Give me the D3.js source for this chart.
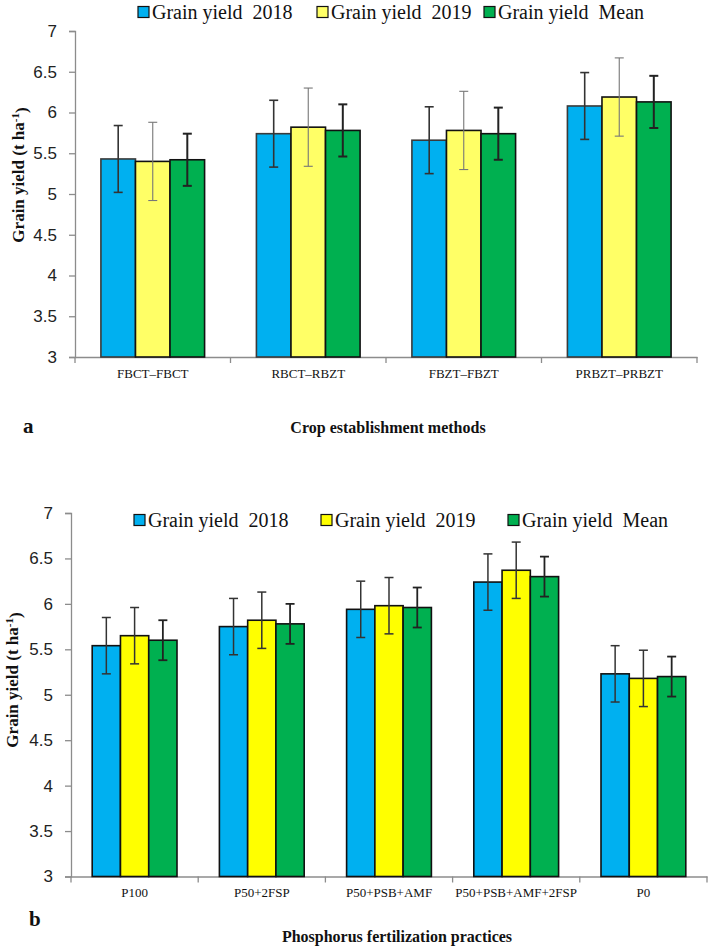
<!DOCTYPE html>
<html>
<head>
<meta charset="utf-8">
<script src="https://cdn.jsdelivr.net/npm/d3@7"></script>
<style>
  html, body { margin: 0; padding: 0; background: #fff; }
  svg text { white-space: pre; }
</style>
</head>
<body>
<svg id="chart" width="709" height="947"></svg>
<script>
// ---------- data ----------
const seriesNames = ["Grain yield  2018", "Grain yield  2019", "Grain yield  Mean"];
const yTicks = [3, 3.5, 4, 4.5, 5, 5.5, 6, 6.5, 7];

// Panel a: crop establishment methods
const catsA = ["FBCT–FBCT", "RBCT–RBZT", "FBZT–FBZT", "PRBZT–PRBZT"];
const a2018 = [5.43, 5.74, 5.66, 6.08];
const a2019 = [5.40, 5.82, 5.78, 6.19];
const aMean = [5.42, 5.78, 5.74, 6.13];
const aErr = [0.41, 0.48, 0.32];

// Panel b: phosphorus fertilization practices
const catsB = ["P100", "P50+2FSP", "P50+PSB+AMF", "P50+PSB+AMF+2FSP", "P0"];
const b2018 = [5.54, 5.75, 5.94, 6.24, 5.23];
const b2019 = [5.65, 5.82, 5.98, 6.37, 5.18];
const bMean = [5.60, 5.78, 5.96, 6.30, 5.20];
const bErr = [0.31, 0.31, 0.22];

// ---------- drawing ----------
const svg = d3.select("#chart");
const serif = "'Liberation Serif', 'Times New Roman', serif";
const sans = "'Liberation Sans', Arial, sans-serif";

function panel(cfg) {
  const g = svg.append("g");
  const x = d3.scaleBand().domain(cfg.cats).range([cfg.left, cfg.right]).padding(0);
  const xs = d3.scaleBand().domain(d3.range(3)).range([0, x.bandwidth()]).paddingInner(0).paddingOuter(0.75);
  const y = d3.scaleLinear().domain([3, 7]).range([cfg.bottom, cfg.top]);

  // y axis
  const ya = d3.axisLeft(y).tickValues(yTicks).tickSize(6).tickPadding(12).tickFormat(d3.format("~g"));
  const yg = g.append("g").attr("transform", `translate(${cfg.left},0)`).call(ya);
  yg.select(".domain").attr("stroke", "#8c8c8c").attr("stroke-width", 1.3);
  yg.selectAll(".tick line").attr("stroke", "#8c8c8c").attr("stroke-width", 1.3);
  yg.selectAll(".tick text").attr("font-family", sans).attr("font-size", 17).attr("fill", "#222");

  // x axis
  const xa = d3.axisBottom(x).tickSize(0).tickPadding(0);
  const xg = g.append("g").attr("transform", `translate(0,${cfg.bottom})`).call(xa);
  xg.select(".domain").attr("stroke", "#8c8c8c").attr("stroke-width", 1.3);
  xg.selectAll(".tick text").attr("font-family", serif).attr("font-size", 13).attr("fill", "#111")
    .attr("dy", null).attr("y", cfg.labelDy);
  // boundary ticks between categories
  const bounds = cfg.cats.map(c => x(c)).concat([x(cfg.cats[cfg.cats.length - 1]) + x.bandwidth()]);
  g.append("g").selectAll("line").data(bounds).join("line")
    .attr("x1", d => d).attr("x2", d => d)
    .attr("y1", cfg.bottom).attr("y2", cfg.bottom + 6)
    .attr("stroke", "#8c8c8c").attr("stroke-width", 1.3);

  // bars
  const rows = [];
  cfg.cats.forEach((c, i) => cfg.series.forEach((s, k) => rows.push({ c, k, v: s[i], e: cfg.err[k] })));
  g.append("g").selectAll("rect").data(rows).join("rect")
    .attr("x", d => x(d.c) + xs(d.k))
    .attr("y", d => y(d.v))
    .attr("width", xs.bandwidth())
    .attr("height", d => y(3) - y(d.v))
    .attr("fill", d => cfg.colors[d.k])
    .attr("stroke", d => cfg.barStroke[d.k])
    .attr("stroke-width", 1.6);

  // error bars
  const eg = g.append("g").selectAll("g").data(rows).join("g")
    .attr("stroke", d => cfg.errColor[d.k])
    .attr("stroke-width", d => cfg.errWidth[d.k]);
  const cx = d => x(d.c) + xs(d.k) + xs.bandwidth() / 2;
  eg.append("line").attr("x1", cx).attr("x2", cx).attr("y1", d => y(d.v + d.e)).attr("y2", d => y(d.v - d.e));
  eg.append("line").attr("x1", d => cx(d) - 4.5).attr("x2", d => cx(d) + 4.5).attr("y1", d => y(d.v + d.e)).attr("y2", d => y(d.v + d.e));
  eg.append("line").attr("x1", d => cx(d) - 4.5).attr("x2", d => cx(d) + 4.5).attr("y1", d => y(d.v - d.e)).attr("y2", d => y(d.v - d.e));

  // legend
  const lg = g.append("g");
  seriesNames.forEach((name, k) => {
    const bx = cfg.legendX[k];
    lg.append("rect").attr("x", bx).attr("y", cfg.legendY - 5.5).attr("width", 11).attr("height", 11)
      .attr("fill", cfg.colors[k]).attr("stroke", "#111").attr("stroke-width", 1.2);
    lg.append("text").attr("x", bx + 14).attr("y", cfg.legendY).attr("dy", "0.35em")
      .attr("font-family", serif).attr("font-size", 20).attr("fill", "#111").text(name);
  });

  // y title
  const yt = g.append("text")
    .attr("transform", `translate(${cfg.ytX},${cfg.ytY}) rotate(-90)`)
    .attr("text-anchor", "middle").attr("dy", "0.35em")
    .attr("font-family", serif).attr("font-size", 17).attr("font-weight", "bold").attr("fill", "#111");
  yt.append("tspan").text("Grain yield (t ha");
  yt.append("tspan").attr("dy", "-0.45em").attr("font-size", 11).text("-1");
  yt.append("tspan").attr("dy", "0.45em").text(")");

  // x title and panel letter
  g.append("text").attr("x", cfg.xtX).attr("y", cfg.xtY).attr("text-anchor", "middle")
    .attr("font-family", serif).attr("font-size", 16).attr("font-weight", "bold").attr("fill", "#111")
    .text(cfg.xTitle);
  g.append("text").attr("x", cfg.letterX).attr("y", cfg.letterY)
    .attr("font-family", serif).attr("font-size", 21).attr("font-weight", "bold").attr("fill", "#111")
    .text(cfg.letter);
}

panel({
  cats: catsA, series: [a2018, a2019, aMean], err: aErr,
  left: 75, right: 697, top: 31, bottom: 357,
  colors: ["#00b0f0", "#ffff66", "#00b050"],
  barStroke: ["#3a3a3a", "#111", "#111"],
  errColor: ["#333", "#777", "#222"], errWidth: [1.6, 1.1, 2],
  legendX: [138, 317, 484], legendY: 12,
  labelDy: 21,
  ytX: 18, ytY: 175,
  xTitle: "Crop establishment methods", xtX: 388, xtY: 433,
  letter: "a", letterX: 23, letterY: 433
});

panel({
  cats: catsB, series: [b2018, b2019, bMean], err: bErr,
  left: 71, right: 707, top: 513, bottom: 876.5,
  colors: ["#00b0f0", "#ffff00", "#00b050"],
  barStroke: ["#111", "#111", "#111"],
  errColor: ["#333", "#333", "#222"], errWidth: [1.5, 1.5, 1.8],
  legendX: [134, 321, 508], legendY: 520,
  labelDy: 20,
  ytX: 12, ytY: 680,
  xTitle: "Phosphorus fertilization practices", xtX: 397, xtY: 942,
  letter: "b", letterX: 29, letterY: 926
});
</script>
</body>
</html>
